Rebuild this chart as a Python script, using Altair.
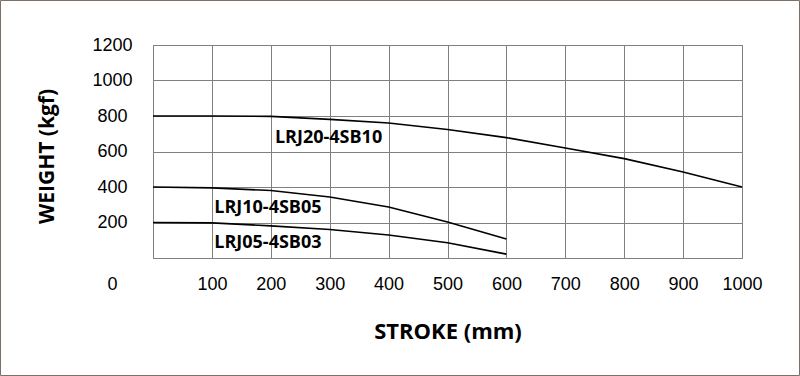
import altair as alt
import pandas as pd

# ---- data ----
stroke_ticks = [0, 100, 200, 300, 400, 500, 600, 700, 800, 900, 1000]
weight_ticks = [0, 200, 400, 600, 800, 1000, 1200]

x_lrj20 = [0, 100, 200, 300, 400, 500, 600, 700, 800, 900, 1000]
y_lrj20 = [800, 800, 798, 781, 761, 724, 678, 620, 560, 485, 400]

x_lrj10 = [0, 100, 200, 300, 400, 500, 600]
y_lrj10 = [400, 395, 380, 344, 287, 203, 107]

x_lrj05 = [0, 100, 200, 300, 400, 500, 600]
y_lrj05 = [200, 198, 181, 161, 130, 86, 22]

series_names = ["LRJ20-4SB10", "LRJ10-4SB05", "LRJ05-4SB03"]
label_x = [207, 104, 104]
label_y = [676, 283, 85]

rows = []
for name, xs, ys in zip(series_names, [x_lrj20, x_lrj10, x_lrj05], [y_lrj20, y_lrj10, y_lrj05]):
    for xv, yv in zip(xs, ys):
        rows.append({"series": name, "stroke": xv, "weight": yv})
df = pd.DataFrame(rows)
labels_df = pd.DataFrame({"series": series_names, "stroke": label_x, "weight": label_y})

GRID = "#808080"

x_scale = alt.Scale(domain=[0, 1000], nice=False, zero=True)
y_scale = alt.Scale(domain=[0, 1200], nice=False)

x_axis = alt.Axis(
    values=stroke_ticks,
    title="STROKE (mm)",
    format="d",
    grid=True, gridColor=GRID, gridOpacity=1, gridWidth=1,
    domain=False, ticks=False, tickSize=0,
    labelOverlap=False, labelFlush=False,
    labelFont="Liberation Sans", labelFontSize=18, labelColor="#000000",
    labelPadding=17, labelBaseline="top",
    labelOffset={"condition": {"test": "datum.value === 0", "value": -41}, "value": 0},
    titleFont="Open Sans", titleFontWeight="bold", titleFontSize=22, titleColor="#000000",
    titleBaseline="middle", titleY=73, titleX=294.5, titleAnchor="middle", titleAlign="center",
)
y_axis = alt.Axis(
    values=weight_ticks,
    title="WEIGHT (kgf)",
    format="d",
    grid=True, gridColor=GRID, gridOpacity=1, gridWidth=1,
    domain=False, ticks=False, tickSize=0,
    labelOverlap=False, labelFlush=False,
    labelFont="Liberation Sans", labelFontSize=18, labelColor="#000000",
    labelAlign="center", labelBaseline="middle", labelPadding=41,
    labelExpr="datum.value === 0 ? '' : datum.label",
    titleFont="Open Sans", titleFontWeight="bold", titleFontSize=21, titleColor="#000000",
    titleAngle=-90, titleBaseline="middle", titleAlign="center", titleX=-106, titleY=111,
)

lines = alt.Chart(df).mark_line(color="#000000", strokeWidth=1.6).encode(
    x=alt.X("stroke:Q", scale=x_scale, axis=x_axis),
    y=alt.Y("weight:Q", scale=y_scale, axis=y_axis),
    detail="series:N",
)

texts = alt.Chart(labels_df).mark_text(
    align="left", baseline="middle", font="Open Sans", fontWeight="bold",
    fontSize=18, color="#000000",
).encode(
    x=alt.X("stroke:Q", scale=x_scale, axis=x_axis),
    y=alt.Y("weight:Q", scale=y_scale, axis=y_axis),
    text="series:N",
)

frame = alt.Chart(pd.DataFrame({"f": [0]})).mark_rect(
    fill=None, stroke="#7d7166", strokeWidth=1
).encode(
    x=alt.value(-152.5), x2=alt.value(646.5),
    y=alt.value(-44.5), y2=alt.value(330.5),
)

chart = alt.layer(lines, texts, frame).properties(
    width=589, height=213,
    padding={"left": 153, "top": 45, "right": 58, "bottom": 118},
    autosize=alt.AutoSizeParams(type="none"),
    background="#ffffff",
).configure_view(stroke=GRID, strokeWidth=1).configure_axis(labelOverlap=False)

chart.save("out.html", embed_options={"renderer": "svg", "actions": False})
